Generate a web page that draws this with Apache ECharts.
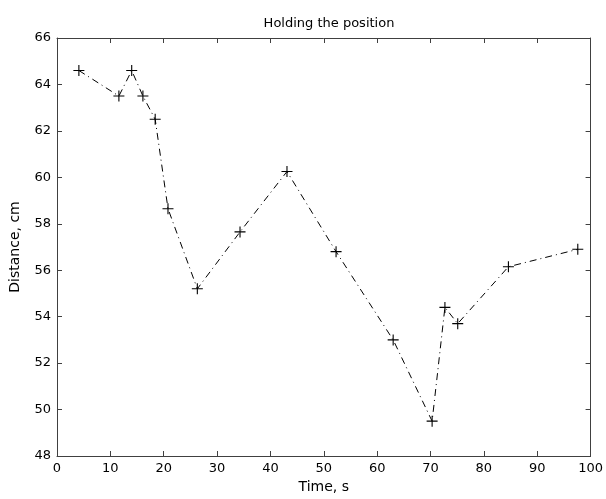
<!DOCTYPE html>
<html><head><meta charset="utf-8">
<script src="https://cdn.jsdelivr.net/npm/echarts@6/dist/echarts.min.js"></script>
<style>html,body{margin:0;padding:0;background:#fff}#c{width:606px;height:499px}</style>
</head><body><div id="c"></div>
<script>
var timeS = [4.1, 11.6, 14.0, 16.1, 18.4, 20.8, 26.3, 34.3, 43.1, 52.3, 63.0, 70.3, 72.7, 75.1, 84.6, 97.6];
var distanceCm = [64.6, 63.5, 64.6, 63.5, 62.5, 58.65, 55.2, 57.65, 60.25, 56.8, 53.0, 49.5, 54.4, 53.7, 56.15, 56.9];
var xTicks = [0, 10, 20, 30, 40, 50, 60, 70, 80, 90, 100];
var yTicks = [48, 50, 52, 54, 56, 58, 60, 62, 64, 66];

var chart = echarts.init(document.getElementById('c'), null, {renderer: 'canvas'});
var font = 'DejaVu Sans, sans-serif';
var axisCol = '#404040';
var pts = timeS.map(function (t, i) { return [t, distanceCm[i]]; });
function axisBase(show) {
  return {
    axisLine: {show: true, onZero: false, lineStyle: {color: axisCol, width: 1}},
    axisTick: {show: true, inside: true, length: 5, lineStyle: {color: axisCol}},
    splitLine: {show: false},
    axisLabel: {show: show, color: '#000', fontFamily: font, fontSize: 12}
  };
}
chart.setOption({
  animation: false,
  title: {text: 'Holding the position', left: 324, top: 12, textAlign: 'center',
    textStyle: {fontFamily: font, fontSize: 13, fontWeight: 'normal', color: '#000'}},
  grid: {left: 57, top: 38, right: 14, bottom: 40},
  xAxis: [
    Object.assign(axisBase(true), {type: 'value', min: 0, max: 100, interval: 10, position: 'bottom',
      name: 'Time, s', nameLocation: 'middle', nameGap: 24,
      nameTextStyle: {fontFamily: font, fontSize: 14, color: '#000'},
      axisLabel: {show: true, color: '#000', fontFamily: font, fontSize: 13, margin: 6,
        formatter: function (v) { return xTicks.indexOf(v) >= 0 ? String(v) : ''; }}}),
    Object.assign(axisBase(false), {type: 'value', min: 0, max: 100, interval: 10, position: 'top'})
  ],
  yAxis: [
    Object.assign(axisBase(true), {type: 'value', min: 48, max: 66, interval: 2, position: 'left',
      name: 'Distance, cm', nameLocation: 'middle', nameGap: 35,
      nameTextStyle: {fontFamily: font, fontSize: 14, color: '#000'},
      axisLabel: {show: true, color: '#000', fontFamily: font, fontSize: 13, margin: 6,
        formatter: function (v) { return yTicks.indexOf(v) >= 0 ? String(v) : ''; }}}),
    Object.assign(axisBase(false), {type: 'value', min: 48, max: 66, interval: 2, position: 'right'})
  ],
  series: [{
    type: 'line',
    data: pts,
    xAxisIndex: 0, yAxisIndex: 0,
    symbol: 'path://M4.5,0H5.5V10H4.5ZM0,4.5H10V5.5H0Z',
    symbolSize: 11,
    showAllSymbol: true,
    itemStyle: {color: '#000'},
    lineStyle: {color: '#000', width: 1, type: [7, 4, 1, 4]}
  }]
});
</script></body></html>
